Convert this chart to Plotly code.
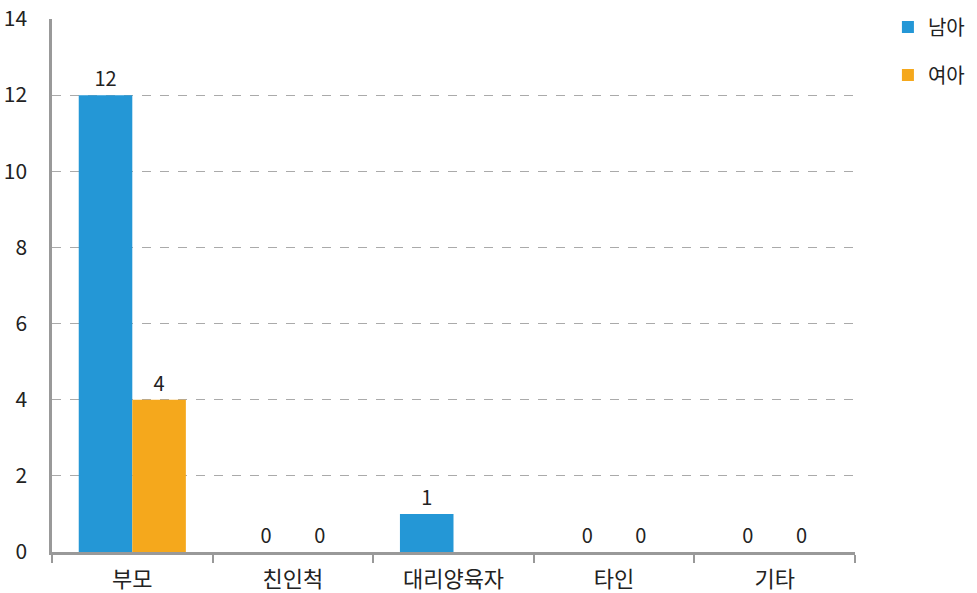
import plotly.graph_objects as go

categories = ["부모", "친인척", "대리양육자", "타인", "기타"]
boys = [12, 0, 1, 0, 0]
girls = [4, 0, 0, 0, 0]
boys_labels = ["12", "0", "1", "0", "0"]
girls_labels = ["4", "0", "", "0", "0"]
series_names = ["남아", "여아"]
y_ticks = [0, 2, 4, 6, 8, 10, 12, 14]

FONT = "Noto Sans CJK KR, Noto Sans, sans-serif"
BLUE = "#2497D6"
ORANGE = "#F5A81C"

fig = go.Figure()
fig.add_trace(go.Bar(
    x=categories, y=boys, name=series_names[0], marker_color=BLUE,
    marker_line_width=0,
    text=boys_labels, textposition="outside", cliponaxis=False,
    textfont=dict(size=20, color="#222"), legend="legend",
))
fig.add_trace(go.Bar(
    x=categories, y=girls, name=series_names[1], marker_color=ORANGE,
    marker_line_width=0,
    text=girls_labels, textposition="outside", cliponaxis=False,
    textfont=dict(size=20, color="#222"), legend="legend2",
))

fig.update_layout(
    width=977, height=593,
    margin=dict(l=52, r=122, t=19, b=41, autoexpand=False),
    paper_bgcolor="white", plot_bgcolor="white",
    font=dict(family=FONT, size=20, color="#222"),
    barmode="group", bargap=0.333, bargroupgap=0,
    showlegend=True,
    legend=dict(x=1.041, y=0.985, xanchor="left", yanchor="middle",
                font=dict(size=20), bgcolor="rgba(0,0,0,0)"),
    legend2=dict(x=1.041, y=0.895, xanchor="left", yanchor="middle",
                 font=dict(size=20), bgcolor="rgba(0,0,0,0)"),
)
fig.update_xaxes(
    showline=True, linecolor="#999", linewidth=2.5,
    ticks="outside", tickson="boundaries", ticklen=8, tickcolor="#999", tickwidth=2,
    tickfont=dict(size=22, color="#222"), showgrid=False, automargin=False,
    ticklabelstandoff=6,
)
fig.update_yaxes(
    range=[0, 14], tickvals=y_ticks, showline=True, linecolor="#999", linewidth=2.5,
    showgrid=True, gridcolor="#aaa", griddash="dash", gridwidth=1,
    tickfont=dict(size=21, color="#222"), ticks="", ticklabelstandoff=18,
    zeroline=False, automargin=False,
)

fig.write_html("out.html", post_script="document.body.style.margin='0';",
               config={"displayModeBar": False})
